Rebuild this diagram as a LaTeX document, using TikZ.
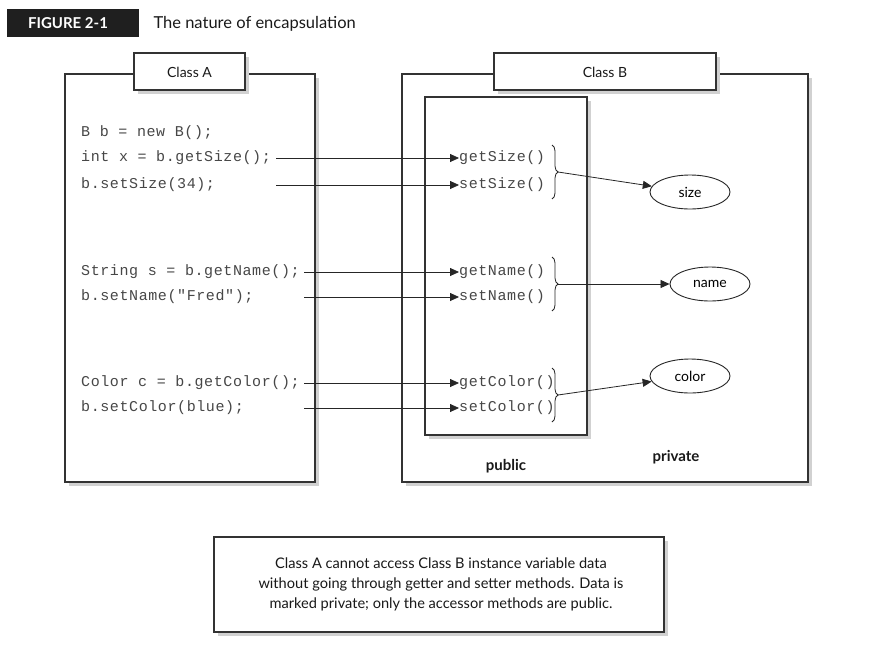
\documentclass[tikz,border=0pt]{standalone}
\usepackage{fontspec}
\setmainfont{Lato}
\setmonofont{Liberation Mono}
\newfontfamily\codefont{Liberation Mono}[LetterSpace=4]
\usetikzlibrary{arrows.meta,decorations.pathreplacing,shapes.geometric}
\tikzset{
  frame/.style={draw=black!80, line width=1.1pt, fill=white},
  shade/.style={fill=black!18, draw=none},
  code/.style={font=\fontsize{15}{15}\codefont, text=black!72, anchor=west, inner sep=0pt},
  arr/.style={-{Triangle[length=9pt,width=8pt]}, line width=0.8pt, draw=black!85},
  lbl/.style={font=\fontsize{14}{16}\selectfont, text=black!90},
  ell/.style={ellipse, draw=black!85, line width=0.9pt, fill=white, minimum width=80pt, minimum height=34pt, inner sep=0pt, font=\fontsize{14}{16}\selectfont},
  bracestyle/.style={draw=black!85, line width=0.8pt, decorate, decoration={brace, amplitude=6pt}},
}
\begin{document}
\begin{tikzpicture}[x=1pt,y=-1pt]
\useasboundingbox (0,0) rectangle (888,646);
% title
\fill[black!88] (7,9) rectangle (139,37);
\node[font=\fontsize{15}{17}\selectfont\bfseries, text=white] (fig) at (68,23.5) {FIGURE 2-1};
\node[anchor=west, font=\fontsize{16.5}{18}\selectfont, text=black!90] (title) at (150,24) {The nature of encapsulation};
% Class A
\fill[shade] (69,78) rectangle (319,486);
\draw[frame] (65,74) rectangle (315,482);
\fill[shade] (138,57) rectangle (249,94);
\draw[frame] (134,53) rectangle (245,90);
\node[lbl] (ca) at (189.5,72) {Class A};
% Class B
\fill[shade] (406,78) rectangle (812,486);
\draw[frame] (402,74) rectangle (808,482);
\fill[shade] (498,57) rectangle (720,94);
\draw[frame] (494,53) rectangle (716,90);
\node[lbl] (cb) at (605,72) {Class B};
\fill[shade] (429,101) rectangle (591,439);
\draw[frame] (425,97) rectangle (587,435);
% code lines
\node[code] (c1) at (81,133) {B b = new B();};
\node[code] (c2) at (81,158) {int x = b.getSize();};
\node[code] (c3) at (81,185) {b.setSize(34);};
\node[code] (c4) at (81,272) {String s = b.getName();};
\node[code] (c5) at (81,297) {b.setName("Fred");};
\node[code] (c6) at (81,383) {Color c = b.getColor();};
\node[code] (c7) at (81,408) {b.setColor(blue);};
% methods
\node[code] (m2) at (459,158) {getSize()};
\node[code] (m3) at (459,185) {setSize()};
\node[code] (m4) at (459,272) {getName()};
\node[code] (m5) at (459,297) {setName()};
\node[code] (m6) at (459,383) {getColor()};
\node[code] (m7) at (459,408) {setColor()};
% line starts
\coordinate (s2) at (276,158);
\coordinate (s3) at (276,185);
\coordinate (s4) at (304,272);
\coordinate (s5) at (304,297);
\coordinate (s6) at (304,383);
\coordinate (s7) at (304,408);
\draw[arr] (s2) -- (m2.west);
\draw[arr] (s3) -- (m3.west);
\draw[arr] (s4) -- (m4.west);
\draw[arr] (s5) -- (m5.west);
\draw[arr] (s6) -- (m6.west);
\draw[arr] (s7) -- (m7.west);
% braces
\draw[bracestyle] (552,145) -- (552,199);
\draw[bracestyle] (552,257) -- (552,311);
\draw[bracestyle] (552,368) -- (552,422);
\coordinate (b1) at (558,172);
\coordinate (b2) at (558,284);
\coordinate (b3) at (558,395);
% private fields
\node[ell] (e1) at (690,192) {size};
\node[ell] (e2) at (710,284) {name};
\node[ell] (e3) at (690,376) {color};
\draw[arr] (b1) -- (e1);
\draw[arr] (b2) -- (e2);
\draw[arr] (b3) -- (e3);
% labels
\node[lbl, font=\fontsize{15}{17}\selectfont\bfseries] (pub) at (506,466) {public};
\node[lbl, font=\fontsize{15}{17}\selectfont\bfseries] (priv) at (676,457) {private};
% note
\fill[shade] (218,541) rectangle (668,636);
\draw[frame] (214,537) rectangle (664,632);
\node[align=center, font=\fontsize{14.6}{20}\selectfont, text=black!90] (note) at (441,584)
  {Class A cannot access Class B instance variable data\\
   without going through getter and setter methods. Data is\\
   marked private; only the accessor methods are public.};
\end{tikzpicture}
\end{document}
